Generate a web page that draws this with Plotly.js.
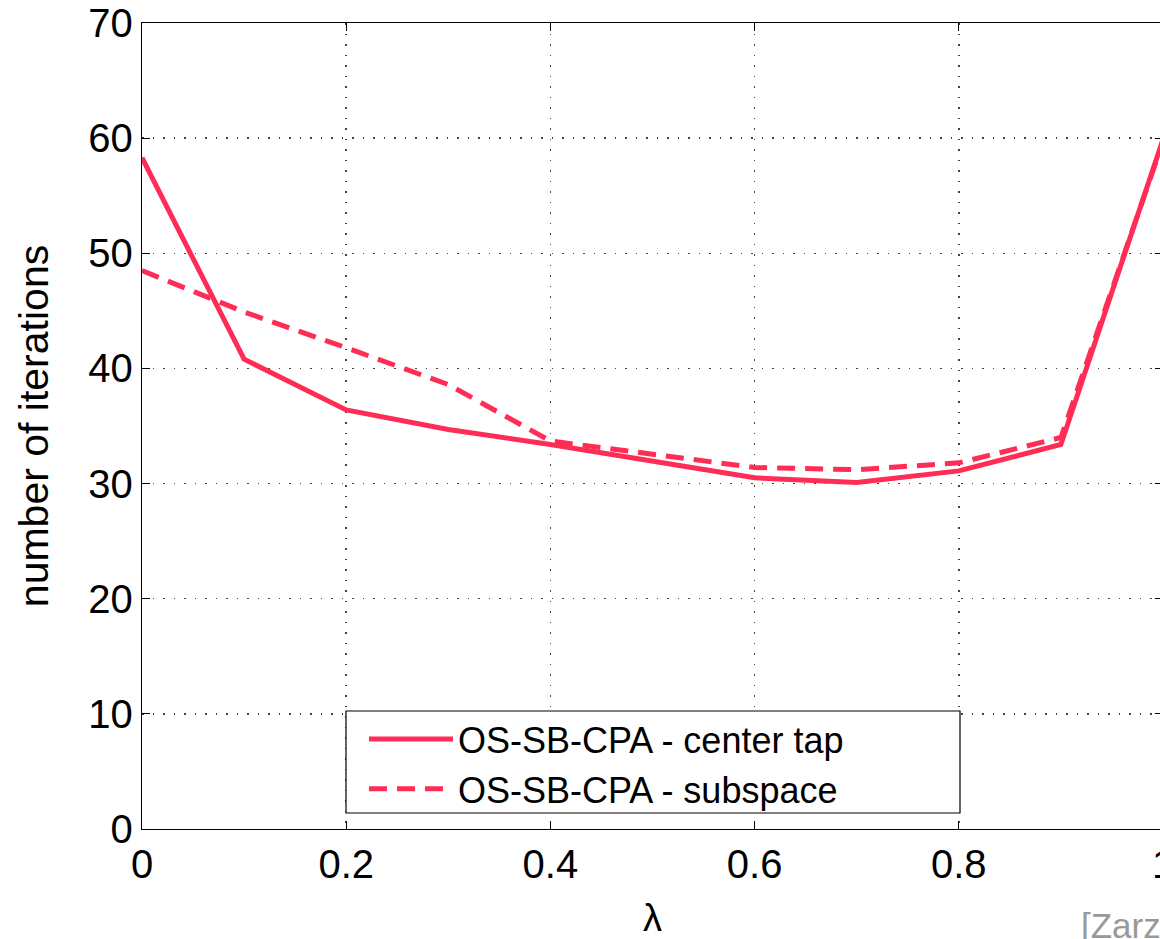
<!DOCTYPE html>
<html>
<head>
<meta charset="utf-8">
<script src="https://cdn.plot.ly/plotly-3.0.1.min.js"></script>
<style>
html,body{margin:0;padding:0;overflow:hidden;background:#fff;}
#chart{width:1175px;height:939px;}
</style>
</head>
<body>
<div id="chart"></div>
<script>
const lambdaValues = [0, 0.1, 0.2, 0.3, 0.4, 0.5, 0.6, 0.7, 0.8, 0.9, 1.0];
const centerTap = [58.3, 40.8, 36.4, 34.7, 33.4, 32.0, 30.5, 30.1, 31.1, 33.4, 59.9];
const subspace  = [48.5, 44.9, 41.8, 38.6, 33.7, 32.5, 31.4, 31.2, 31.8, 34.0, 59.7];
const seriesNames = ["OS-SB-CPA - center tap", "OS-SB-CPA - subspace"];
const xTickVals = [0, 0.2, 0.4, 0.6, 0.8, 1];
const xTickText = ["0", "0.2", "0.4", "0.6", "0.8", "1"];
const yTickVals = [0, 10, 20, 30, 40, 50, 60, 70];

const lineColor = "rgb(255,45,85)";
const font = "Liberation Sans, Arial, sans-serif";

const traces = [
  {x: lambdaValues, y: centerTap, name: seriesNames[0], mode: "lines",
   line: {color: lineColor, width: 5, dash: "solid"}},
  {x: lambdaValues, y: subspace, name: seriesNames[1], mode: "lines",
   line: {color: lineColor, width: 5, dash: "18px,10px"}}
];

// plot area: left 142px, width 1021px
const layout = {
  width: 1175, height: 939,
  margin: {l: 142, r: 12, t: 23, b: 110},
  paper_bgcolor: "#fff", plot_bgcolor: "#fff",
  font: {family: font, color: "#000", size: 34},
  showlegend: true,
  legend: {x: (364-142)/1021, y: (829-709)/806, xanchor: "left", yanchor: "top",
    borderwidth: 0, bgcolor: "rgba(0,0,0,0)",
    itemwidth: 84,
    font: {family: font, size: 36, color: "#000"}, tracegroupgap: 0},
  shapes: [
    {type: "rect", xref: "paper", yref: "paper", layer: "above",
     x0: (346-142)/1021, x1: (960-142)/1021, y0: (829-813)/806, y1: (829-711)/806,
     line: {color: "#000", width: 1.2}, fillcolor: "#fff"}
  ],
  xaxis: {range: [0, 1], tickvals: xTickVals, ticktext: xTickText,
    showgrid: true, gridcolor: "#444", griddash: "1.5px,9px", gridwidth: 1.5,
    showline: true, linecolor: "#000", linewidth: 1.2, mirror: "ticks",
    ticks: "inside", ticklen: 8, tickcolor: "#000", zeroline: false,
    tickfont: {family: font, size: 40, color: "#000"},
    title: {text: "λ", font: {family: font, size: 38, color: "#000"}, standoff: 22}},
  yaxis: {range: [0, 70], tickvals: yTickVals,
    showgrid: true, gridcolor: "#444", griddash: "1.5px,9px", gridwidth: 1.5,
    showline: true, linecolor: "#000", linewidth: 1.2, mirror: "ticks",
    ticks: "inside", ticklen: 8, tickcolor: "#000", zeroline: false,
    tickfont: {family: font, size: 40, color: "#000"},
    title: {text: "number of iterations", font: {family: font, size: 41, color: "#000"}, standoff: 27}},
  annotations: [
    {text: "[Zarzoso]", xref: "paper", yref: "paper", x: (1079-142)/1021, y: -0.12,
     xanchor: "left", yanchor: "middle", showarrow: false,
     font: {family: font, size: 35, color: "#999"}}
  ]
};

Plotly.newPlot("chart", traces, layout, {displayModeBar: false, staticPlot: true});
</script>
</body>
</html>
